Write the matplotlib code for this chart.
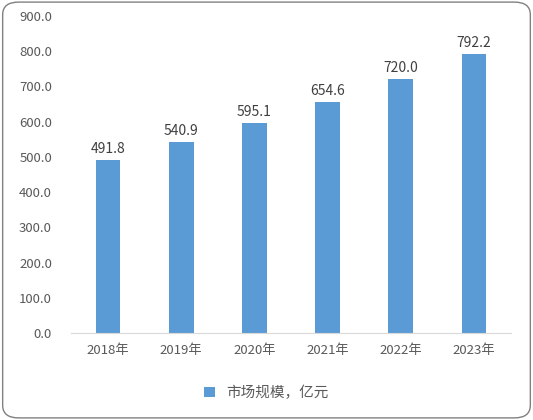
import matplotlib
matplotlib.use('Agg')
from matplotlib import pyplot as plt
from matplotlib.patches import FancyBboxPatch

plt.rcParams['font.family'] = ['Noto Sans CJK SC', 'DejaVu Sans']

years = ['2018年', '2019年', '2020年', '2021年', '2022年', '2023年']
market_size = [491.8, 540.9, 595.1, 654.6, 720.0, 792.2]
series_name = '市场规模，亿元'

fig = plt.figure(figsize=(5.33, 4.2), dpi=100)
ax = fig.add_axes([0.134, 0.207, 0.824, 0.755])

bars = ax.bar(years, market_size, width=0.34, color='#5B9BD5', label=series_name)
for b, v in zip(bars, market_size):
    ax.text(b.get_x() + b.get_width() / 2, v + 12, f'{v:.1f}',
            ha='center', va='bottom', fontsize=10, color='#404040')

ax.set_xlim(-0.5, 5.5)
ax.set_ylim(0, 900)
ax.set_yticks(range(0, 901, 100))
ax.set_yticklabels([f'{t:.1f}' for t in range(0, 901, 100)])
ax.tick_params(axis='both', length=0, labelsize=9.5, colors='#595959')
ax.tick_params(axis='x', pad=8)
ax.tick_params(axis='y', pad=14)
for s in ['top', 'right', 'left']:
    ax.spines[s].set_visible(False)
ax.spines['bottom'].set_color('#D9D9D9')

fig.legend(handles=[bars], labels=[series_name], loc='center',
           bbox_to_anchor=(0.5, 0.064), frameon=False, fontsize=10.5,
           handlelength=0.7, handleheight=0.7, labelcolor='#595959')

border = FancyBboxPatch((0.005, 0.005), 0.99, 0.99,
                        boxstyle='round,pad=0,rounding_size=0.03',
                        transform=fig.transFigure, fill=False,
                        edgecolor='#808080', linewidth=1)
fig.patches.append(border)

fig.savefig('out.png', dpi=100)
